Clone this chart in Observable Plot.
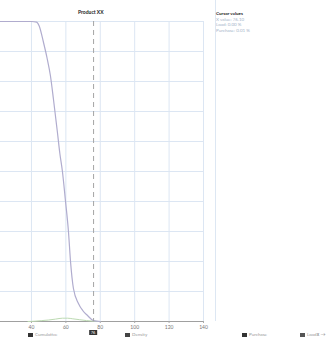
<!DOCTYPE html>
<html>
<head>
<meta charset="utf-8">
<script src="https://cdn.jsdelivr.net/npm/d3@7"></script>
<script src="https://cdn.jsdelivr.net/npm/@observablehq/plot@0.6"></script>
<style>
  html, body { margin: 0; padding: 0; background: #fff; }
  #wrap { position: relative; width: 328px; height: 338px; overflow: hidden; font-family: Lato, "DejaVu Sans", sans-serif; }
  #title { position: absolute; left: 78px; top: 9px; font-size: 5px; font-weight: bold; color: #222; }
  #sep { position: absolute; left: 215px; top: 0; width: 1px; height: 321px; background: #dde7f3; }
  #panel { position: absolute; left: 216px; top: 11px; font-size: 4.5px; line-height: 5.5px; color: #a5b4ca; }
  #panel .h { color: #222; font-weight: bold; }
  #cursorLabel { position: absolute; top: 330px; font-size: 4px; line-height: 5px; background: #333; color: #fff; padding: 0 1.5px; transform: translateX(-50%); }
  #legend { position: absolute; top: 332px; left: 0; width: 328px; height: 6px; font-size: 4.5px; line-height: 5px; color: #999; white-space: nowrap; }
  #legend span.item { position: absolute; }
  #legend span.sw { display: inline-block; width: 5px; height: 4px; margin-right: 2px; vertical-align: middle; }
</style>
</head>
<body>
<div id="wrap">
  <div id="chart"></div>
  <div id="sep"></div>
  <div id="title"></div>
  <div id="panel"></div>
  <div id="cursorLabel"></div>
  <div id="legend"></div>
</div>
<script>
// ---- data ----
const titleText = "Product XX";
const xTicks = [40, 60, 80, 100, 120, 140];
const yTicks = [0, 0.1, 0.2, 0.3, 0.4, 0.5, 0.6, 0.7, 0.8, 0.9, 1.0];

const cumX = [22, 30, 40, 43, 44.5, 47, 49, 51, 52.8, 55.1, 56.5, 58, 59.8, 61.5, 62.7, 64.4, 67.3, 70, 72.6, 76, 80];
const cumY = [1, 1, 1, 0.998, 0.985, 0.93, 0.88, 0.82, 0.74, 0.63, 0.56, 0.50, 0.40, 0.30, 0.20, 0.11, 0.06, 0.035, 0.02, 0.003, 0];

const densX = [38, 42, 46, 50, 54, 58, 61, 64, 68, 72, 76, 80];
const densY = [0, 0.001, 0.003, 0.005, 0.008, 0.011, 0.011, 0.009, 0.006, 0.003, 0.001, 0];

const cursorX = [76.1];
const panelHeader = "Cursor values";
const panelLines = ["X value: 76.10", "Load: 0.00 %", "Purchase: 0.01 %"];
const legendLabels = ["Cumulative", "Density", "Purchase", "Load"];
const legendColors = ["#333", "#444", "#333", "#555"];

// ---- build ----
const cum = cumX.map((x, i) => ({x, y: cumY[i]}));
const dens = densX.map((x, i) => ({x, y: densY[i]}));

const chart = Plot.plot({
  width: 328,
  height: 338,
  marginLeft: 0,
  marginRight: 125,
  marginTop: 21,
  marginBottom: 17,
  style: {fontFamily: "Lato, 'DejaVu Sans', sans-serif", fontSize: "5px", color: "#777", background: "transparent"},
  x: {domain: [22, 140]},
  y: {domain: [0, 1], axis: null},
  marks: [
    Plot.gridY(yTicks, {stroke: "#dce6f3", strokeOpacity: 1}),
    Plot.gridX(xTicks, {stroke: "#dce6f3", strokeOpacity: 1}),
    Plot.ruleY([0], {stroke: "#a0a0a0"}),
    Plot.axisX(xTicks, {tickSize: 2, tickPadding: 2, stroke: "#aaa", fill: "#777"}),
    Plot.line(dens, {x: "x", y: "y", stroke: "#bcdab2", strokeWidth: 1, curve: "monotone-x"}),
    Plot.line(cum, {x: "x", y: "y", stroke: "#b0acce", strokeWidth: 1.2, curve: "monotone-x"}),
    Plot.ruleX(cursorX, {stroke: "#a5a5a5", strokeWidth: 1, strokeDasharray: "5,4"})
  ]
});
document.getElementById("chart").appendChild(chart);

document.getElementById("title").textContent = titleText;
const panel = document.getElementById("panel");
const h = document.createElement("div"); h.className = "h"; h.textContent = panelHeader; panel.appendChild(h);
panelLines.forEach(t => { const d = document.createElement("div"); d.textContent = t; panel.appendChild(d); });

const cl = document.getElementById("cursorLabel");
cl.textContent = cursorX[0].toFixed(0);
cl.style.left = chart.scale("x").apply(cursorX[0]) + "px";

const legendPos = [28, 125, 242, 300];
const lg = document.getElementById("legend");
legendLabels.forEach((t, i) => {
  const s = document.createElement("span"); s.className = "item"; s.style.left = legendPos[i] + "px";
  const sw = document.createElement("span"); sw.className = "sw"; sw.style.background = legendColors[i];
  s.appendChild(sw); s.appendChild(document.createTextNode(t)); lg.appendChild(s);
});
</script>
</body>
</html>
